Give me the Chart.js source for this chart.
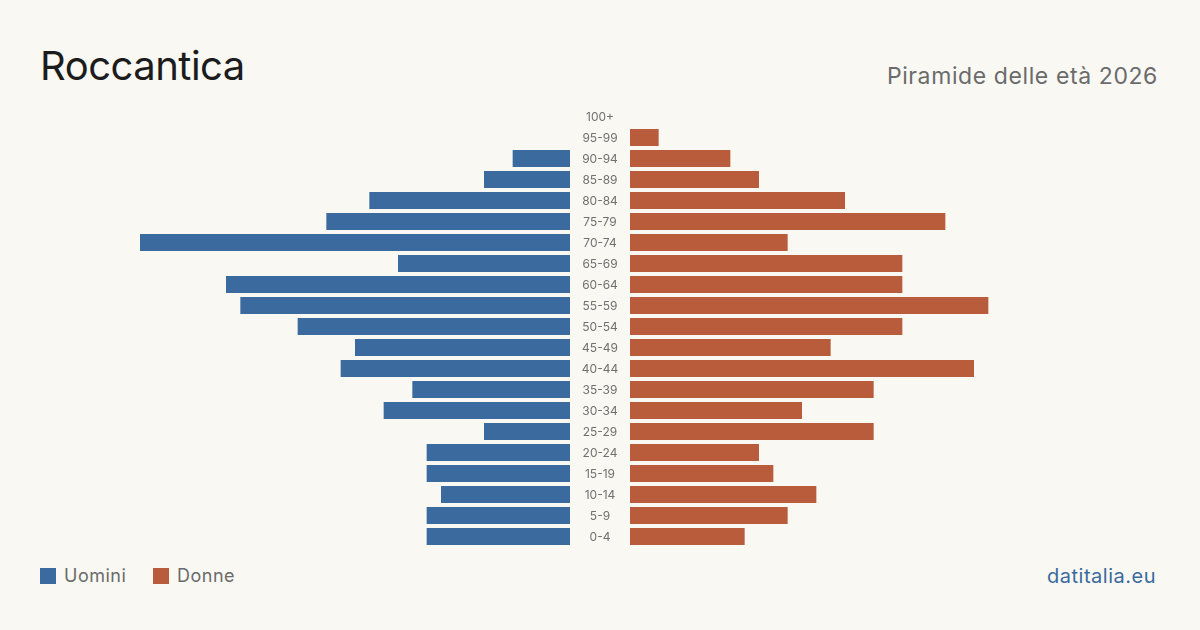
<!DOCTYPE html>
<html>
<head>
<meta charset="utf-8">
<script src="https://cdn.jsdelivr.net/npm/chart.js@4"></script>
<style>
  html, body { margin: 0; padding: 0; }
  body { width: 1200px; height: 630px; background: #f9f8f3; position: relative; overflow: hidden; font-family: Inter, 'Noto Sans', sans-serif; }
  #title { position: absolute; left: 40px; top: 40px; font-size: 40px; color: #1c1c1c; letter-spacing: -0.5px; line-height: 52px; }
  #subtitle { position: absolute; right: 42px; top: 62px; font-size: 23px; color: #6b6b6b; line-height: 28px; letter-spacing: 0.6px; }
  #wrapL { position: absolute; left: 140px; top: 106px; width: 430px; height: 441px; }
  #wrapR { position: absolute; left: 570px; top: 106px; width: 490px; height: 441px; }
  .legend { position: absolute; top: 564px; font-size: 18px; color: #6b6b6b; line-height: 24px; letter-spacing: 0.5px; }
  .legend span.sw { display: inline-block; width: 16px; height: 16px; vertical-align: -2px; margin-right: 8px; }
  #brand { position: absolute; right: 44px; top: 563px; font-size: 20px; color: #3a6a9e; line-height: 26px; letter-spacing: 0.5px; }
</style>
</head>
<body>
<div id="title">Roccantica</div>
<div id="subtitle">Piramide delle età 2026</div>
<div id="wrapL"><canvas id="chart-men"></canvas></div>
<div id="wrapR"><canvas id="chart-women"></canvas></div>
<div class="legend" style="left:40px"><span class="sw" style="background:#3a6a9e"></span>Uomini</div>
<div class="legend" style="left:153px"><span class="sw" style="background:#b95c3c"></span>Donne</div>
<div id="brand">datitalia.eu</div>
<script>
// ── Data ──────────────────────────────────────────────────────────────────────
const AGES   = ['100+', '95-99', '90-94', '85-89', '80-84', '75-79', '70-74', '65-69', '60-64', '55-59',
                '50-54', '45-49', '40-44', '35-39', '30-34', '25-29', '20-24', '15-19', '10-14', '5-9', '0-4'];
const UOMINI = [0, 0, 4, 6, 14, 17, 30, 12, 24, 23, 19, 15, 16, 11, 13, 6, 10, 10, 9, 10, 10];
const DONNE  = [0, 2, 7, 9, 15, 22, 11, 19, 19, 25, 19, 14, 24, 17, 12, 17, 9, 10, 13, 11, 8];
const X_MAX  = 30;
const GAP    = 60;   // centre column for the age labels

const BLUE = '#3a6a9e';
const RED  = '#b95c3c';
const TICK = '#707070';

function barDS(label, data, color) {
  return {
    label, data,
    backgroundColor: color,
    borderWidth: 0,
    barPercentage: 0.81,
    categoryPercentage: 1.0,
  };
}

function baseOpts(reverse, padLeft = 0) {
  return {
    indexAxis: 'y',
    responsive: true, maintainAspectRatio: false, animation: false,
    layout: { padding: { left: padLeft, right: 0, top: 0, bottom: 0 } },
    plugins: { legend: { display: false }, tooltip: { enabled: false } },
    scales: {
      x: { display: false, min: 0, max: X_MAX, reverse },
      y: { display: false },
    },
  };
}

// Age labels centred in the gap, placed with the chart's own y scale
const ageLabels = {
  id: 'ageLabels',
  afterDraw(chart) {
    const { ctx, scales: { y }, chartArea } = chart;
    ctx.save();
    ctx.fillStyle = TICK;
    ctx.font = '12px Inter';
    ctx.textAlign = 'center';
    ctx.textBaseline = 'middle';
    AGES.forEach((a, i) => ctx.fillText(a, chartArea.left - GAP / 2, y.getPixelForValue(i) + 1));
    ctx.restore();
  },
};

// men: bars grow leftwards
new Chart(document.getElementById('chart-men').getContext('2d'), {
  type: 'bar',
  data: { labels: AGES, datasets: [barDS('Uomini', UOMINI, BLUE)] },
  options: baseOpts(true),
});

// women
new Chart(document.getElementById('chart-women').getContext('2d'), {
  type: 'bar',
  data: { labels: AGES, datasets: [barDS('Donne', DONNE, RED)] },
  options: baseOpts(false, GAP),
  plugins: [ageLabels],
});
</script>
</body>
</html>
